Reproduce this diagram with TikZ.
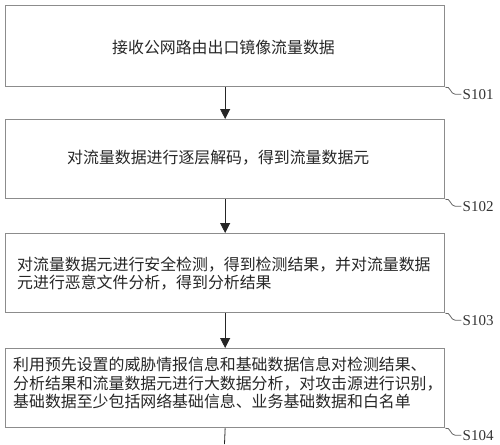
\documentclass[tikz,border=0pt]{standalone}
\usepackage{fontspec}
\newfontfamily\cjk{Noto Sans CJK SC}
\newfontfamily\lab{Liberation Serif}
\usetikzlibrary{arrows.meta}
\begin{document}
\begin{tikzpicture}[x=1pt,y=-1pt,
  box/.style={draw=black!45, line width=1.3pt, minimum width=439pt, minimum height=#1, inner sep=0pt, anchor=north west},
  txt/.style={font=\cjk\fontsize{15.9}{18.7}\selectfont, text=black!85, align=left, inner sep=0pt, anchor=west},
  conn/.style={draw=black!85, line width=0.8pt, -{Triangle[width=10pt,length=10pt]}},
  plain/.style={draw=black!85, line width=0.8pt},
  sq/.style={draw=black!60, line width=0.8pt},
  lab/.style={font=\lab\fontsize{15}{18}\selectfont, text=black!80, inner sep=1pt, anchor=west}]
\useasboundingbox (0,0) rectangle (500,444);
\node[box=81pt] (b1) at (5,5) {};
\node[box=79pt] (b2) at (5,119) {};
\node[box=79pt] (b3) at (5,233) {};
\node[box=79pt] (b4) at (5,348) {};
\node[txt] (t1) at (112,47) {接收公网路由出口镜像流量数据};
\node[txt] (t2) at (67,158) {对流量数据进行逐层解码，得到流量数据元};
\node[txt] (t3) at (17,273.5) {对流量数据元进行安全检测，得到检测结果，并对流量数据\\元进行恶意文件分析，得到分析结果};
\node[txt] (t4) at (13,383) {利用预先设置的威胁情报信息和基础数据信息对检测结果、\\分析结果和流量数据元进行大数据分析，对攻击源进行识别，\\基础数据至少包括网络基础信息、业务基础数据和白名单};
\draw[conn] (b1.south) -- (b2.north);
\draw[conn] (b2.south) -- (b3.north);
\draw[conn] (b3.south) -- (b4.north);
\coordinate (end) at (224.5,444);
\draw[plain] (b4.south) -- (end);
\draw[sq] (b1.south east) .. controls +(5,-2) and +(-5,0) .. ++(10,7) -- ++(6,0) node[lab] (l1) {S101};
\draw[sq] (b2.south east) .. controls +(5,-2) and +(-5,0) .. ++(10,7) -- ++(6,0) node[lab] (l2) {S102};
\draw[sq] (b3.south east) .. controls +(5,-2) and +(-5,0) .. ++(10,7) -- ++(6,0) node[lab] (l3) {S103};
\draw[sq] (b4.south east) .. controls +(5,-2) and +(-5,0) .. ++(10,7) -- ++(6,0) node[lab] (l4) {S104};
\end{tikzpicture}
\end{document}
